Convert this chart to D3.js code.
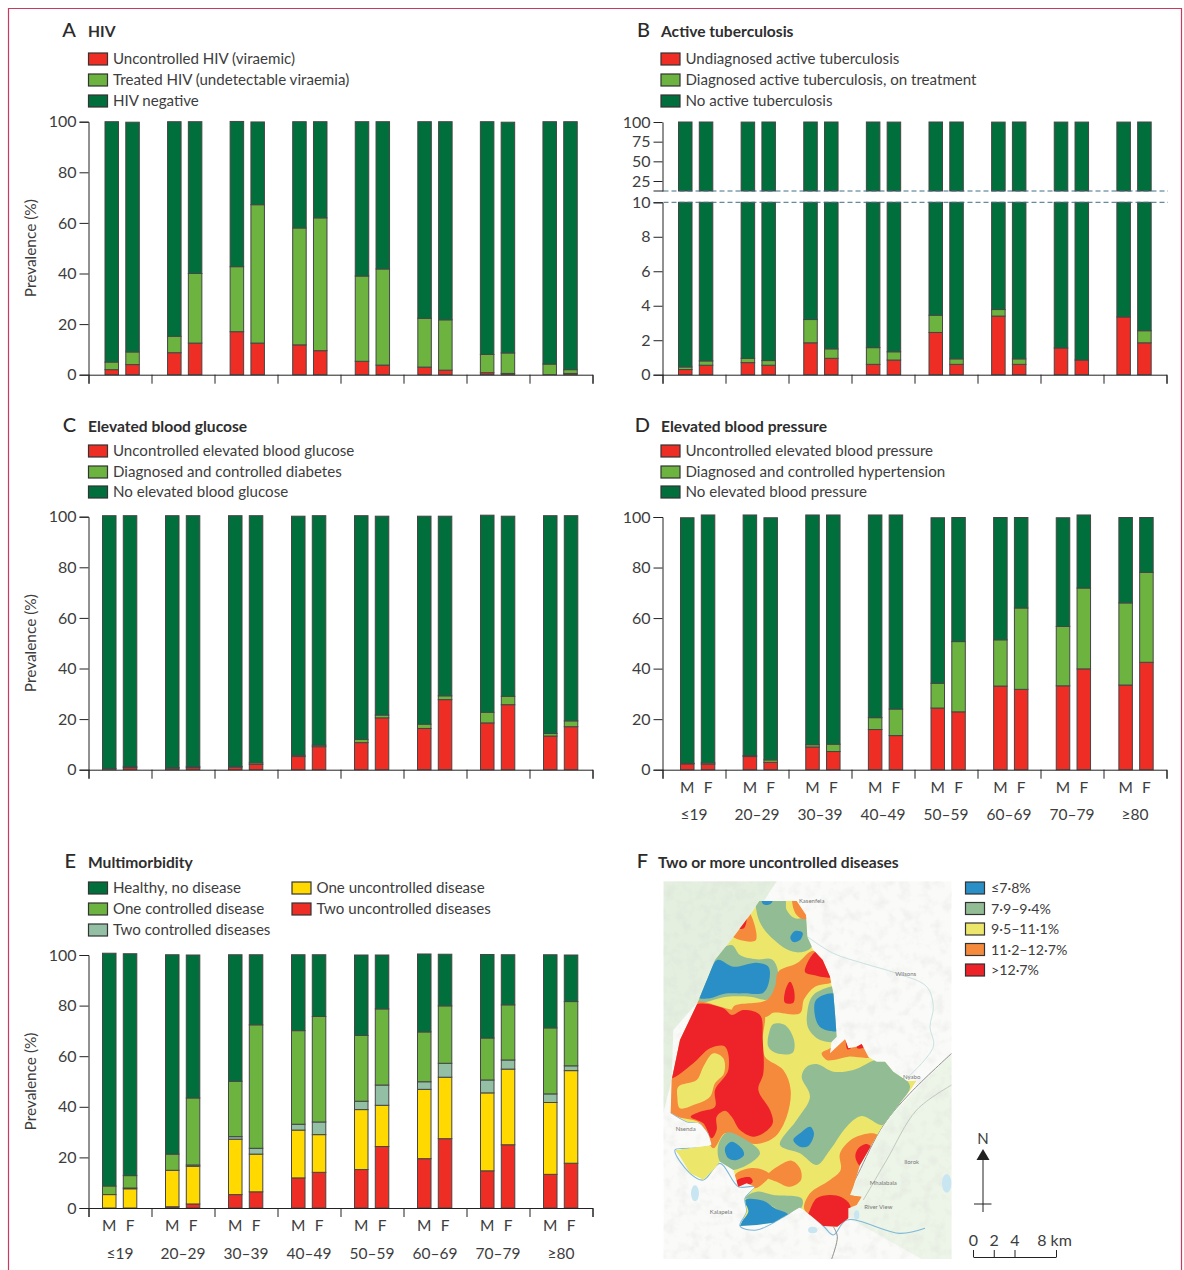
<!DOCTYPE html>
<html lang="en">
<head>
    <meta charset="UTF-8">
    <title>Prevalence by age and sex</title>
    <script src="https://d3js.org/d3.v7.min.js"></script>
    <style>
        html, body { margin: 0; padding: 0; background: #fff; }
        svg { display: block; }
        text { font-family: Lato, sans-serif; fill: #3d3d3d; }
        .letter { font-size: 20px; font-weight: 500; fill: #2a2a2a; }
        .title { font-size: 15.6px; font-weight: 700; fill: #2e2e2e; }
        .legend { font-size: 15.1px; }
        .maplegend { font-size: 14.2px; }
        .tick text { font-family: Lato, sans-serif; font-size: 16px; fill: #3d3d3d; }
        .ylabel { font-size: 15.4px; }
        .sex, .age { font-size: 15.5px; }
        .domain, .tick line { stroke: #222; stroke-width: 1; }
        .place { font-size: 6px; fill: #777; }
    </style>
</head>
<body>
<script>
    const width  = 1184;
    const height = 1270;

    const ages = ["≤19","20–29","30–39","40–49","50–59","60–69","70–79","≥80"];
    const sexes = ["M","F"];

    // every array: M, F for each age group, bottom segment first
    const hivUncontrolled = [2,4, 8.7,12.5, 17,12.5, 11.8,9.5, 5.3,3.8, 3,1.8, 0.8,0.5, 0,0.5];
    const hivTreated = [3,5, 6.5,27.5, 25.7,54.7, 46.2,52.5, 33.7,38, 19.3,19.9, 7.2,8.1, 4.2,1.5];
    const hivNegative = [95,90.8, 84.8,60, 57.4,32.7, 42,38, 61,58.2, 77.7,78.3, 92,91.2, 95.8,98];

    const tbUndiagnosed = [0.3,0.55, 0.7,0.55, 1.85,0.95, 0.6,0.85, 2.45,0.6, 3.4,0.6, 1.55,0.85, 3.35,1.85];
    const tbDiagnosed = [0.15,0.25, 0.25,0.27, 1.35,0.55, 0.97,0.48, 1,0.32, 0.38,0.32, 0,0, 0,0.7];
    const tbNone = [99.55,99.2, 98.95,99.18, 96.8,98.5, 98.43,98.57, 96.55,99.08, 96.1,99.08, 98.35,99.05, 96.55,97.45];

    const glucoseUncontrolled = [0,0.8, 0.6,0.8, 1,2.1, 5.2,9.1, 10.7,20.5, 16.3,27.7, 18.5,25.7, 13.3,17];
    const glucoseControlled = [0.5,0.4, 0.2,0.4, 0.3,0.6, 0.5,0.6, 1.3,1.1, 1.7,1.5, 4.2,3.3, 1,2.3];
    const glucoseNone = [99.9,99.2, 99.6,99.2, 99.1,97.7, 94.5,90.7, 88.4,78.6, 82.2,71, 77.9,71.2, 86.1,81.1];

    const bpUncontrolled = [2.3,2.2, 5.2,2.9, 9,7.2, 15.9,13.5, 24.4,22.9, 33.1,31.8, 33.2,39.9, 33.5,42.5];
    const bpControlled = [0.2,0.5, 0.4,1, 0.9,2.9, 4.7,10.5, 9.8,27.8, 18.3,32.2, 23.5,32, 32.5,35.6];
    const bpNone = [97.2,98.1, 95.2,95.8, 90.9,90.7, 80.2,76.8, 65.5,49.1, 48.4,35.8, 43,28.9, 33.8,21.7];

    const twoUncontrolled = [0,0, 0.5,1.6, 5.3,6.4, 11.9,14.1, 15.2,24.3, 19.5,27.4, 14.7,25, 13.3,17.7];
    const oneUncontrolled = [5.3,7.6, 14.4,14.9, 21.9,14.9, 18.9,14.9, 23.7,16.3, 27.4,24.3, 30.8,29.9, 28.4,36.6];
    const twoControlled = [0,0.3, 0,0.5, 1,2.3, 2.3,5, 3.3,8, 3,5.5, 5.1,3.6, 3.4,1.9];
    const oneControlled = [3.4,4.9, 6.4,26.5, 21.9,48.8, 37,41.7, 26,30.1, 19.7,22.7, 16.6,21.8, 26.1,25.4];
    const healthy = [92,87.7, 78.8,56.5, 50,27.7, 30,24.4, 31.8,21.3, 30.8,20.4, 33,19.8, 28.9,18.4];

    const mapLegend = ["≤7·8%","7·9–9·4%","9·5–11·1%","11·2–12·7%",">12·7%"];

    const red = "#ee2e24", lightGreen = "#6db33f", darkGreen = "#006f3c", yellow = "#ffd900", pale = "#93bfa5";
    const mapColors = {blue: "#2a8fc7", sage: "#92bc94", yellow: "#ece76a", orange: "#f58a3c", red: "#ee2229"};

    const svg = d3.select("body").append("svg").attr("width",width).attr("height",height);

    svg.append("path")
        .attr("d", "M8.5,1270V8.5H1181.5V1270")
        .attr("fill","none").attr("stroke","#c93a63").attr("stroke-width",1.2);

    function heading(letter, letterX, titleText, titleX, y) {
        svg.append("text").attr("class","letter").attr("x",letterX).attr("y",y).attr("text-anchor","end").text(letter);
        svg.append("text").attr("class","title").attr("x",titleX).attr("y",y).text(titleText);
    }

    function legendRow(x, y, color, label, textX, cls) {
        svg.append("rect").attr("x",x+0.5).attr("y",y-6).attr("width",19).attr("height",12)
            .attr("fill",color).attr("stroke","#333").attr("stroke-width",1.2);
        svg.append("text").attr("class",cls || "legend").attr("x",textX || x+25).attr("y",y+5).text(label);
    }

    // x scales for one panel: age groups, then M/F inside a group
    function xScales(x0, barOffset, groupWidth) {
        const group = d3.scaleBand().domain(ages).range([x0, x0+(groupWidth || 504)]);
        const sex = d3.scaleBand().domain(sexes).range([barOffset, barOffset+34.3]).paddingInner(0.35);
        const edge = d3.scaleLinear().domain([0,ages.length]).range([x0, x0+504]);
        return {group, sex, edge};
    }

    function stackRows(series) {
        return ages.flatMap((age,i) => sexes.map((s,j) => {
            let base = 0;
            const segs = series.map(se => {
                const v = se.values[i*2+j];
                const seg = {from: base, to: base+v, color: se.color};
                base += v;
                return seg;
            }).filter(seg => seg.to > seg.from);
            return {age, sex: s, segs};
        }));
    }

    function drawBars(rows, xs, y) {
        const g = svg.append("g");
        rows.forEach(r => {
            r.segs.forEach(seg => {
                g.append("rect")
                    .attr("x", xs.group(r.age) + xs.sex(r.sex))
                    .attr("width", xs.sex.bandwidth())
                    .attr("y", y(seg.to))
                    .attr("height", y(seg.from) - y(seg.to))
                    .attr("fill", seg.color)
                    .attr("stroke", "#454545")
                    .attr("stroke-width", 1);
            });
        });
    }

    function xAxis(xs, yPos) {
        svg.append("g").attr("transform",`translate(0,${yPos})`)
            .call(d3.axisBottom(xs.edge).tickValues(d3.range(ages.length+1)).tickSize(9).tickFormat(""));
    }

    function xLabels(xs, sexY, ageY) {
        ages.forEach((age,i) => {
            sexes.forEach(s => {
                svg.append("text").attr("class","sex").attr("text-anchor","middle")
                    .attr("x", xs.group(age)+xs.sex(s)+xs.sex.bandwidth()/2).attr("y",sexY).text(s);
            });
            svg.append("text").attr("class","age").attr("text-anchor","middle")
                .attr("x", xs.edge(i+0.5)).attr("y",ageY).text(age);
        });
    }

    function barPanel(opts) {
        const xs = xScales(opts.x0, opts.barOffset, opts.groupWidth);
        const y = d3.scaleLinear().domain([0,100]).range([opts.yZero, opts.yTop]);
        drawBars(stackRows(opts.series), xs, y);
        svg.append("g").attr("transform",`translate(${opts.x0},0)`)
            .call(d3.axisLeft(y).tickValues(d3.range(0,101,20)).tickSize(9).tickPadding(3));
        xAxis(xs, opts.yZero);
        if(opts.ylabel) {
            svg.append("text").attr("class","ylabel").attr("text-anchor","middle")
                .attr("transform",`translate(36,${(opts.yZero+opts.yTop)/2}) rotate(-90)`).text("Prevalence (%)");
        }
        if(opts.sexY) xLabels(xs, opts.sexY, opts.ageY);
    }

    // A
    heading("A",76,"HIV",88,37);
    legendRow(88,59,red,"Uncontrolled HIV (viraemic)");
    legendRow(88,80,lightGreen,"Treated HIV (undetectable viraemia)");
    legendRow(88,101,darkGreen,"HIV negative");
    barPanel({x0:88.5, barOffset:16.5, groupWidth:500.5, yZero:374.7, yTop:121.7, ylabel:true, series:[
        {values:hivUncontrolled,color:red},{values:hivTreated,color:lightGreen},{values:hivNegative,color:darkGreen}]});

    // B, broken axis
    heading("B",650,"Active tuberculosis",661,37);
    legendRow(660.5,59,red,"Undiagnosed active tuberculosis");
    legendRow(660.5,80,lightGreen,"Diagnosed active tuberculosis, on treatment");
    legendRow(660.5,101,darkGreen,"No active tuberculosis");
    (function() {
        const x0 = 662.5;
        const xs = xScales(x0, 16, 501);
        const yLow = d3.scaleLinear().domain([0,10]).range([374.7,202.3]);
        const yHigh = d3.scaleLinear().domain([25,100]).range([181,122]);
        const rows = stackRows([{values:tbUndiagnosed,color:red},{values:tbDiagnosed,color:lightGreen},{values:tbNone,color:darkGreen}]);
        // lower part stops at 10, upper part starts at the break
        const lowRows = rows.map(r => ({age:r.age, sex:r.sex, segs:r.segs.map(s => ({from:s.from, to:Math.min(s.to,10), color:s.color}))}));
        drawBars(lowRows, xs, yLow);
        const breakValue = yHigh.invert(191);
        const highRows = rows.map(r => ({age:r.age, sex:r.sex, segs:[{from:breakValue, to:d3.max(r.segs,s => s.to), color:darkGreen}]}));
        drawBars(highRows, xs, yHigh);
        svg.append("g").attr("transform",`translate(${x0},0)`)
            .call(d3.axisLeft(yLow).tickValues(d3.range(0,11,2)).tickSize(9).tickPadding(3));
        svg.append("g").attr("transform",`translate(${x0},0)`)
            .call(d3.axisLeft(yHigh.copy().domain([breakValue,100]).range([191,122])).tickValues([25,50,75,100]).tickSize(9).tickSizeOuter(0).tickPadding(3));
        svg.append("line").attr("x1",x0-9).attr("x2",x0+1).attr("y1",191).attr("y2",191).attr("stroke","#222");
        [191,202.3].forEach(b => {
            svg.append("line").attr("x1",x0+1).attr("x2",1168).attr("y1",b).attr("y2",b)
                .attr("stroke","#3f6f84").attr("stroke-width",1).attr("stroke-dasharray","5 3");
        });
        xAxis(xs, 374.7);
    })();

    // C
    heading("C",76,"Elevated blood glucose",88,431.5);
    legendRow(88,451,red,"Uncontrolled elevated blood glucose");
    legendRow(88,472,lightGreen,"Diagnosed and controlled diabetes");
    legendRow(88,492,darkGreen,"No elevated blood glucose");
    barPanel({x0:88.5, barOffset:14, yZero:769.7, yTop:516.7, ylabel:true, series:[
        {values:glucoseUncontrolled,color:red},{values:glucoseControlled,color:lightGreen},{values:glucoseNone,color:darkGreen}]});

    // D
    heading("D",650,"Elevated blood pressure",661,431.5);
    legendRow(660.5,451,red,"Uncontrolled elevated blood pressure");
    legendRow(660.5,472,lightGreen,"Diagnosed and controlled hypertension");
    legendRow(660.5,492,darkGreen,"No elevated blood pressure");
    barPanel({x0:662.5, barOffset:18, groupWidth:501, yZero:769.7, yTop:517, sexY:793, ageY:820, series:[
        {values:bpUncontrolled,color:red},{values:bpControlled,color:lightGreen},{values:bpNone,color:darkGreen}]});

    // E
    heading("E",76,"Multimorbidity",88,868);
    legendRow(88,888,darkGreen,"Healthy, no disease");
    legendRow(88,909,lightGreen,"One controlled disease");
    legendRow(88,930,pale,"Two controlled diseases");
    legendRow(291.5,888,yellow,"One uncontrolled disease");
    legendRow(291.5,909,red,"Two uncontrolled diseases");
    barPanel({x0:88.5, barOffset:14, yZero:1208, yTop:955, ylabel:true, sexY:1231, ageY:1259, series:[
        {values:twoUncontrolled,color:red},{values:oneUncontrolled,color:yellow},{values:twoControlled,color:pale},
        {values:oneControlled,color:lightGreen},{values:healthy,color:darkGreen}]});

    // F, map regions, in 3x crop units
    heading("F",648,"Two or more uncontrolled diseases",658,868);

    const studyArea = [[478,183],[552,183],[590,183],[618,225],[622,290],[640,330],[668,360],[690,410],[700,460],[705,520],[710,590],[695,605],[690,640],[735,598],[745,625],[770,620],[785,612],[805,650],[830,665],[855,665],[880,695],[920,722],[950,722],[930,752],[900,790],[850,855],[820,905],[780,975],[760,1040],[750,1065],[785,1070],[770,1095],[745,1105],[745,1135],[712,1160],[670,1158],[630,1125],[600,1102],[560,1125],[520,1148],[470,1155],[420,1158],[440,1115],[435,1075],[465,1040],[440,1030],[415,1040],[400,990],[360,965],[340,990],[310,1020],[270,1000],[240,950],[225,930],[265,925],[335,915],[325,880],[300,850],[260,845],[212,818],[215,720],[240,600],[290,495],[345,360],[405,285],[450,225]];

    const mapRegions = [
        ["sage",[[472,170],[553,170],[560,210],[585,235],[630,235],[635,320],[600,337],[560,328],[520,298],[490,265],[472,225]]],
        ["orange",[[578,175],[595,180],[630,228],[610,238],[590,225],[580,205]]],
        ["blue",[[485,175],[520,175],[510,193],[490,193]]],
        ["blue",[[571,293],[585,273],[608,278],[600,300],[580,306]]],
        ["orange",[[445,215],[468,300],[420,300],[395,285],[420,255]]],
        ["red",[[440,232],[432,265],[412,265],[425,250]]],
        ["sage",[[345,345],[395,315],[420,345],[470,358],[515,358],[532,385],[530,440],[505,478],[450,470],[380,470],[290,485]]],
        ["blue",[[352,360],[400,380],[470,368],[505,380],[508,420],[490,458],[430,460],[370,462],[330,475],[295,472],[320,420]]],
        ["orange",[[640,332],[675,365],[700,423],[645,440],[612,478],[600,520],[520,518],[500,530],[400,530],[400,500],[500,480],[525,440],[535,395],[590,370]]],
        ["orange",[[285,488],[360,500],[400,510],[490,515],[488,600],[495,650],[550,690],[572,750],[560,830],[525,890],[470,912],[420,900],[375,880],[340,925],[300,850],[205,818],[205,720],[230,600]]],
        ["red",[[285,495],[370,505],[395,525],[430,510],[480,525],[488,600],[490,700],[475,750],[510,810],[518,850],[490,880],[460,890],[420,870],[395,830],[375,812],[350,830],[350,870],[335,895],[310,850],[272,830],[300,815],[345,800],[345,750],[385,690],[375,620],[330,625],[280,670],[210,715],[230,600]]],
        ["yellow",[[235,740],[290,720],[310,680],[340,640],[370,655],[372,700],[345,730],[330,770],[280,795],[240,805],[232,770]]],
        ["red",[[570,425],[582,450],[580,488],[555,488],[555,455]]],
        ["red",[[648,335],[675,362],[695,410],[640,405],[615,395]]],
        ["sage",[[705,440],[705,460],[715,600],[660,600],[625,565],[622,515],[640,465]]],
        ["blue",[[705,462],[712,540],[712,572],[665,565],[648,540],[648,480]]],
        ["sage",[[520,552],[555,555],[582,600],[578,638],[530,640],[505,620],[508,575]]],
        ["orange",[[665,640],[690,625],[735,590],[745,620],[770,615],[790,605],[810,650],[745,650],[700,660],[680,660]]],
        ["red",[[738,590],[752,625],[742,628]]],
        ["red",[[770,617],[785,608],[792,622],[772,625]]],
        ["sage",[[620,680],[650,672],[700,695],[760,690],[825,660],[860,655],[885,690],[930,738],[900,790],[850,855],[785,828],[740,860],[690,930],[650,975],[600,940],[540,915],[590,840],[630,770],[605,710]]],
        ["blue",[[630,860],[642,880],[625,918],[600,920],[580,900],[600,880]]],
        ["orange",[[820,880],[835,890],[785,980],[760,1065],[790,1070],[775,1100],[745,1105],[630,1125],[612,1105],[630,1060],[690,1020],[722,990],[720,940],[760,895]]],
        ["red",[[800,912],[815,925],[782,978],[766,950],[775,925]]],
        ["red",[[630,1110],[650,1075],[690,1065],[725,1072],[750,1095],[750,1135],[712,1165],[670,1165],[625,1125]]],
        ["orange",[[500,1010],[540,975],[575,962],[600,985],[603,1020],[570,1040],[530,1025]]],
        ["orange",[[405,1005],[450,985],[490,990],[510,1005],[490,1030],[465,1045],[440,1028],[415,1045]]],
        ["red",[[410,1022],[450,1012],[458,1025],[418,1045]]],
        ["sage",[[380,878],[430,895],[480,940],[400,990],[360,965],[355,915]]],
        ["blue",[[375,925],[395,905],[425,925],[432,945],[410,960],[385,955]]],
        ["sage",[[430,1075],[470,1055],[520,1065],[605,1075],[605,1102],[560,1125],[520,1100],[480,1080]]],
        ["blue",[[435,1080],[490,1082],[525,1105],[565,1125],[520,1152],[470,1160],[415,1162],[445,1115]]]
    ];

    const mapGreenNW = [[190,124],[530,124],[290,490],[220,570],[215,720],[190,820]];
    const mapGreenSE = [[1055,640],[850,850],[750,1060],[740,1130],[965,1257],[1055,1257]];
    const riverEast = [[622,290],[700,340],[790,370],[890,400],[980,440],[1000,500],[990,560],[1000,620],[920,715]];
    const riverSouth = [[212,818],[260,845],[300,850],[335,915],[265,925],[225,930],[270,1000],[310,1020],[360,970],[415,1040],[465,1040],[435,1075],[440,1115],[420,1158],[470,1170],[560,1125],[600,1102],[670,1158],[700,1185],[740,1140],[900,1180],[975,1165]];
    const roads = [[[1055,640],[930,760],[850,855],[775,1000],[750,1050]],[[1055,735],[950,810],[860,960],[790,1080]],[[700,1160],[712,1190],[695,1257]]];
    const lakes = [[285,1060,12,24],[638,1170,14,10],[1040,1030,14,28],[770,1125,8,14]];
    const places = [["Kasenfela",635,190],["Wilsons",917,408],["Nyabo",935,718],["Nsenda",257,873],["Kalapela",363,1122],["Mhalabala",850,1034],["River View",835,1106],["Ilorok",935,972]];

    const mapX = d3.scaleLinear().domain([0,1500]).range([600,1100]);
    const mapY = d3.scaleLinear().domain([0,1290]).range([840,1270]);
    const smooth = d3.line().x(d => mapX(d[0])).y(d => mapY(d[1])).curve(d3.curveCatmullRomClosed.alpha(0.5));
    const openLine = d3.line().x(d => mapX(d[0])).y(d => mapY(d[1])).curve(d3.curveCatmullRom.alpha(0.5));
    const sharp = d3.line().x(d => mapX(d[0])).y(d => mapY(d[1])).curve(d3.curveLinearClosed);

    const defs = svg.append("defs");
    defs.append("clipPath").attr("id","mapFrame").append("rect")
        .attr("x",mapX(190)).attr("y",mapY(124)).attr("width",mapX(1055)-mapX(190)).attr("height",mapY(1257)-mapY(124));
    defs.append("clipPath").attr("id","study").append("path").attr("d",sharp(studyArea));
    const mottle = defs.append("filter").attr("id","mottle").attr("x",0).attr("y",0).attr("width","100%").attr("height","100%");
    mottle.append("feTurbulence").attr("type","fractalNoise").attr("baseFrequency",0.09).attr("numOctaves",3).attr("seed",4);
    mottle.append("feColorMatrix").attr("type","matrix").attr("values","0 0 0 0 0.6  0 0 0 0 0.62  0 0 0 0 0.58  0 0 0 1.6 -0.72");

    const base = svg.append("g").attr("clip-path","url(#mapFrame)");
    base.append("rect").attr("x",mapX(190)).attr("y",mapY(124)).attr("width",mapX(1055)-mapX(190)).attr("height",mapY(1257)-mapY(124)).attr("fill","#fafaf8");
    base.append("path").attr("d",sharp(mapGreenNW)).attr("fill","#e4efe0");
    base.append("path").attr("d",sharp(mapGreenSE)).attr("fill","#edf4e8");
    base.append("rect").attr("x",mapX(190)).attr("y",mapY(124)).attr("width",mapX(1055)-mapX(190)).attr("height",mapY(1257)-mapY(124)).attr("filter","url(#mottle)").attr("opacity",0.3);
    lakes.forEach(l => {
        base.append("ellipse").attr("cx",mapX(l[0])).attr("cy",mapY(l[1])).attr("rx",l[2]/3).attr("ry",l[3]/3).attr("fill","#c8e5f2");
    });
    base.append("path").attr("d",openLine(riverEast)).attr("fill","none").attr("stroke","#bcdcda").attr("stroke-width",0.8);
    base.append("path").attr("d",openLine(riverSouth)).attr("fill","none").attr("stroke","#7db8d8").attr("stroke-width",1.1);
    roads.forEach((r,i) => {
        base.append("path").attr("d",openLine(r)).attr("fill","none").attr("stroke",i===1 ? "#b8bcb4" : "#8c8f8c").attr("stroke-width",i===1 ? 0.8 : 1);
    });

    const regions = svg.append("g").attr("clip-path","url(#study)");
    regions.append("path").attr("d",sharp(studyArea)).attr("fill",mapColors.yellow);
    mapRegions.forEach(r => {
        regions.append("path").attr("d",smooth(r[1])).attr("fill",mapColors[r[0]]);
    });

    places.forEach(p => {
        svg.append("text").attr("class","place").attr("text-anchor","middle").attr("x",mapX(p[1])).attr("y",mapY(p[2])).text(p[0]);
    });

    const mapColorList = [mapColors.blue,mapColors.sage,mapColors.yellow,mapColors.orange,mapColors.red];
    const legendY = d3.scalePoint().domain(mapLegend).range([888,970]);
    mapLegend.forEach((label,i) => legendRow(965,legendY(label),mapColorList[i],label,991,"maplegend"));

    // north arrow
    const north = svg.append("g");
    north.append("text").attr("x",983).attr("y",1144).attr("text-anchor","middle").style("font-size","15px").text("N");
    north.append("path").attr("d","M983,1149L989.5,1160H976.5Z").attr("fill","#222");
    north.append("line").attr("x1",983).attr("x2",983).attr("y1",1159).attr("y2",1212).attr("stroke","#222");
    north.append("line").attr("x1",974).attr("x2",991.5).attr("y1",1204).attr("y2",1204).attr("stroke","#222");

    // scale bar
    const km = d3.scaleLinear().domain([0,8]).range([973,1056]);
    const scaleBar = svg.append("g").attr("transform","translate(0,1257)")
        .call(d3.axisTop(km).tickValues([0,2,4,8]).tickSizeInner(7).tickSizeOuter(0).tickPadding(4).tickFormat(d => d===8 ? "8 km" : d));
    scaleBar.selectAll(".tick text").style("font-size","16px");
    scaleBar.selectAll(".tick").filter(d => d===8).select("text").attr("dx",-2);
</script>
</body>
</html>
